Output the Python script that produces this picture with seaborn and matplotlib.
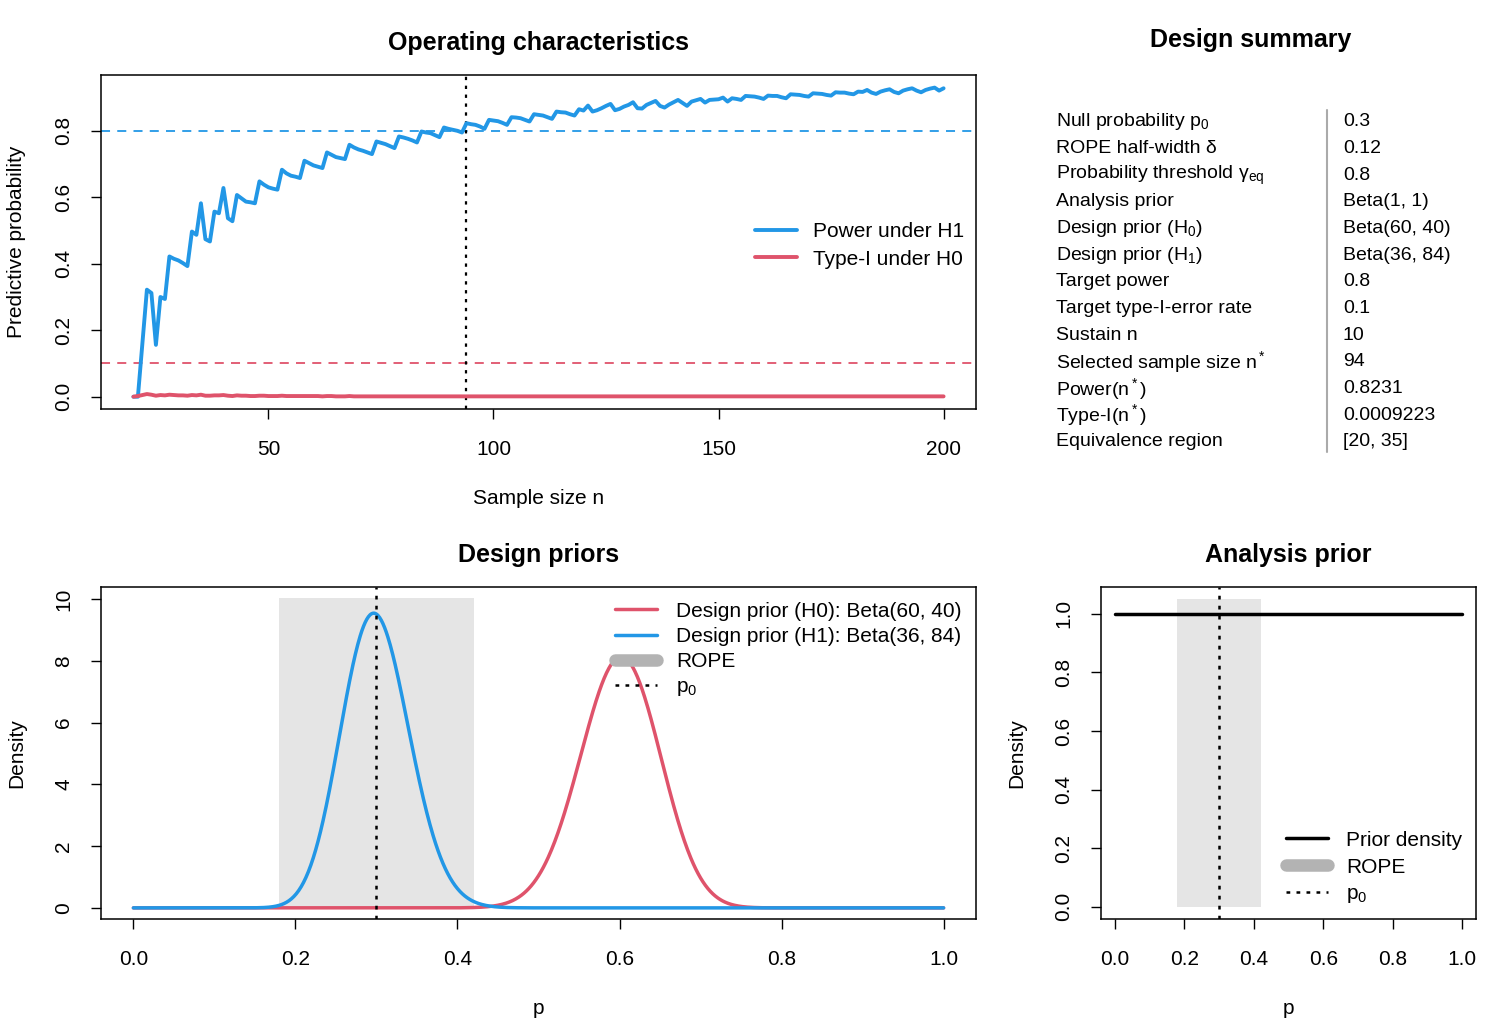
import math
import matplotlib
matplotlib.use("Agg")
import matplotlib.pyplot as plt
import numpy as np
import pandas as pd
import seaborn as sns

# ---- data ----
n_values = list(range(20, 201))
power_h1 = [
    0.000, 0.000, 0.160, 0.322, 0.312, 0.156, 0.300, 0.294, 0.422, 0.415,
    0.410, 0.402, 0.393, 0.497, 0.487, 0.582, 0.474, 0.467, 0.557, 0.552,
    0.628, 0.537, 0.528, 0.607, 0.597, 0.587, 0.585, 0.582, 0.648, 0.638,
    0.630, 0.626, 0.623, 0.683, 0.672, 0.665, 0.662, 0.658, 0.710, 0.703,
    0.696, 0.692, 0.688, 0.735, 0.728, 0.721, 0.718, 0.715, 0.758, 0.750,
    0.744, 0.740, 0.735, 0.730, 0.768, 0.764, 0.760, 0.754, 0.748, 0.783,
    0.780, 0.776, 0.771, 0.765, 0.798, 0.795, 0.793, 0.787, 0.781, 0.810,
    0.806, 0.803, 0.800, 0.795, 0.823, 0.820, 0.818, 0.813, 0.806, 0.833,
    0.831, 0.829, 0.824, 0.818, 0.841, 0.840, 0.838, 0.833, 0.828, 0.850,
    0.848, 0.846, 0.841, 0.836, 0.858, 0.856, 0.855, 0.850, 0.846, 0.865,
    0.861, 0.876, 0.858, 0.862, 0.868, 0.875, 0.881, 0.862, 0.866, 0.873,
    0.878, 0.886, 0.868, 0.867, 0.878, 0.884, 0.890, 0.875, 0.870, 0.879,
    0.886, 0.893, 0.884, 0.875, 0.888, 0.892, 0.896, 0.885, 0.893, 0.894,
    0.895, 0.900, 0.888, 0.898, 0.896, 0.893, 0.905, 0.904, 0.903, 0.900,
    0.896, 0.906, 0.905, 0.905, 0.901, 0.898, 0.910, 0.909, 0.908, 0.905,
    0.903, 0.913, 0.912, 0.911, 0.908, 0.906, 0.916, 0.915, 0.915, 0.912,
    0.910, 0.918, 0.917, 0.923, 0.915, 0.911, 0.918, 0.922, 0.925, 0.917,
    0.913, 0.921, 0.925, 0.928, 0.921, 0.916, 0.923, 0.927, 0.930, 0.921,
    0.928,
]
type1_h0 = [
    0.000, 0.002, 0.005, 0.008, 0.006, 0.003, 0.005, 0.004, 0.006, 0.005,
    0.004, 0.004, 0.003, 0.005, 0.004, 0.006, 0.003, 0.003, 0.004, 0.004,
    0.005, 0.003, 0.002, 0.004, 0.003, 0.003, 0.002, 0.002, 0.003, 0.003,
    0.002, 0.002, 0.002, 0.003, 0.002, 0.002, 0.002, 0.002, 0.002, 0.002,
    0.002, 0.002, 0.001, 0.002, 0.002, 0.001, 0.001, 0.001, 0.002, 0.001,
    0.001, 0.001, 0.001, 0.001, 0.001, 0.001, 0.001, 0.001, 0.001, 0.001,
    0.001, 0.001, 0.001, 0.001, 0.001, 0.001, 0.001, 0.001, 0.001, 0.001,
    0.001, 0.001, 0.001, 0.001, 0.001, 0.001, 0.001, 0.001, 0.001, 0.001,
    0.001, 0.001, 0.001, 0.001, 0.001, 0.001, 0.001, 0.001, 0.001, 0.001,
    0.001, 0.001, 0.001, 0.001, 0.001, 0.001, 0.001, 0.001, 0.001, 0.001,
    0.001, 0.001, 0.001, 0.001, 0.001, 0.001, 0.001, 0.001, 0.001, 0.001,
    0.001, 0.001, 0.001, 0.001, 0.001, 0.001, 0.001, 0.001, 0.001, 0.001,
    0.001, 0.001, 0.001, 0.001, 0.001, 0.001, 0.001, 0.001, 0.001, 0.001,
    0.001, 0.001, 0.001, 0.001, 0.001, 0.001, 0.001, 0.001, 0.001, 0.001,
    0.001, 0.001, 0.001, 0.001, 0.001, 0.001, 0.001, 0.001, 0.001, 0.001,
    0.001, 0.001, 0.001, 0.001, 0.001, 0.001, 0.001, 0.001, 0.001, 0.001,
    0.001, 0.001, 0.001, 0.001, 0.001, 0.001, 0.001, 0.001, 0.001, 0.001,
    0.001, 0.001, 0.001, 0.001, 0.001, 0.001, 0.001, 0.001, 0.001, 0.001,
    0.001,
]

p0 = 0.3
delta = 0.12
target_power = 0.8
target_type1 = 0.1
n_star = 94
prior_h0 = (60, 40)
prior_h1 = (36, 84)
analysis_prior = (1, 1)

summary_labels = [
    r"Null probability $\mathregular{p_0}$",
    "ROPE half-width δ",
    r"Probability threshold $\mathregular{\gamma_{eq}}$",
    "Analysis prior",
    r"Design prior ($\mathregular{H_0}$)",
    r"Design prior ($\mathregular{H_1}$)",
    "Target power",
    "Target type-I-error rate",
    "Sustain n",
    r"Selected sample size $\mathregular{n^*}$",
    r"Power($\mathregular{n^*}$)",
    r"Type-I($\mathregular{n^*}$)",
    "Equivalence region",
]
summary_values = ["0.3", "0.12", "0.8", "Beta(1, 1)", "Beta(60, 40)", "Beta(36, 84)",
                  "0.8", "0.1", "10", "94", "0.8231", "0.0009223", "[20, 35]"]

BLUE = "#2297E6"
RED = "#DF536B"


def beta_pdf(x, a, b):
    logc = math.lgamma(a + b) - math.lgamma(a) - math.lgamma(b)
    with np.errstate(divide="ignore"):
        return np.exp(logc + (a - 1) * np.log(x) + (b - 1) * np.log1p(-x))


sns.set_style("ticks")
plt.rcParams["font.family"] = ["Liberation Sans", "DejaVu Sans"]
plt.rcParams["mathtext.fontset"] = "custom"
plt.rcParams["mathtext.rm"] = "Liberation Sans"
plt.rcParams["mathtext.it"] = "Liberation Sans:italic"
for key in ("text.color", "axes.labelcolor", "xtick.color", "ytick.color", "axes.edgecolor"):
    plt.rcParams[key] = "black"
plt.rcParams["axes.linewidth"] = 1.1
plt.rcParams["xtick.major.size"] = 7
plt.rcParams["ytick.major.size"] = 7
plt.rcParams["xtick.major.width"] = 1.0
plt.rcParams["ytick.major.width"] = 1.0
plt.rcParams["xtick.major.pad"] = 15
plt.rcParams["ytick.major.pad"] = 13

FS = 15
TFS = 18
fig = plt.figure(figsize=(15.02, 10.22), dpi=100)
W, H = 1502.0, 1022.0


def add_ax(l, t, r, b):
    return fig.add_axes([l / W, 1 - b / H, (r - l) / W, (b - t) / H])


ax1 = add_ax(101, 75, 976, 409)
ax3 = add_ax(101, 587, 976, 919)
ax4 = add_ax(1101, 587, 1476, 919)

# ---- operating characteristics ----
df_oc = pd.DataFrame({"n": n_values, "power": power_h1, "type1": type1_h0})
ax1.axhline(target_power, color=BLUE, ls=(0, (5, 4)), lw=1.3)
ax1.axhline(target_type1, color=RED, ls=(0, (5, 4)), lw=1.3)
ax1.axvline(n_star, color="black", ls=(0, (1.5, 2.5)), lw=1.6)
sns.lineplot(data=df_oc, x="n", y="power", ax=ax1, color=BLUE, lw=2.8, label="Power under H1")
sns.lineplot(data=df_oc, x="n", y="type1", ax=ax1, color=RED, lw=2.8, label="Type-I under H0")
ax1.set_xlim(12.8, 207.2)
ax1.set_ylim(-0.037, 0.968)
ax1.set_xticks([50, 100, 150, 200])
ax1.set_yticks([0.0, 0.2, 0.4, 0.6, 0.8])
ax1.set_yticklabels(["0.0", "0.2", "0.4", "0.6", "0.8"], rotation=90, va="center")
ax1.set_xlabel("Sample size n", fontsize=FS, labelpad=22)
ax1.set_ylabel("Predictive probability", fontsize=FS, labelpad=20)
ax1.set_title("Operating characteristics", fontsize=TFS, fontweight="bold", pad=18)
ax1.legend(loc="center right", bbox_to_anchor=(1.0, 0.49), frameon=False, fontsize=FS,
           handlelength=2.0, borderaxespad=0.15, labelspacing=0.4, handletextpad=0.8)

# ---- design priors ----
p_grid = np.linspace(0, 1, 1001)
df_dp = pd.DataFrame({
    "p": p_grid,
    "h0": beta_pdf(p_grid, *prior_h0),
    "h1": beta_pdf(p_grid, *prior_h1),
    "ana": beta_pdf(p_grid, *analysis_prior),
})
top3 = 10.05
ax3.fill_between([p0 - delta, p0 + delta], 0, top3, color="#E5E5E5", lw=0)
sns.lineplot(data=df_dp, x="p", y="h0", ax=ax3, color=RED, lw=2.5,
             label="Design prior (H0): Beta(60, 40)")
sns.lineplot(data=df_dp, x="p", y="h1", ax=ax3, color=BLUE, lw=2.5,
             label="Design prior (H1): Beta(36, 84)")
ax3.plot([], [], color="#B3B3B3", lw=9, solid_capstyle="round", label="ROPE")
ax3.axvline(p0, color="black", ls=(0, (1.5, 2.5)), lw=1.8, label=r"$\mathregular{p_0}$")
ax3.set_xlim(-0.04, 1.04)
ax3.set_ylim(-0.36, 10.39)
ax3.set_xticks([0.0, 0.2, 0.4, 0.6, 0.8, 1.0])
ax3.set_xticklabels(["0.0", "0.2", "0.4", "0.6", "0.8", "1.0"])
ax3.set_yticks([0, 2, 4, 6, 8, 10])
ax3.set_yticklabels(["0", "2", "4", "6", "8", "10"], rotation=90, va="center")
ax3.set_xlabel("p", fontsize=FS, labelpad=22)
ax3.set_ylabel("Density", fontsize=FS, labelpad=20)
ax3.set_title("Design priors", fontsize=TFS, fontweight="bold", pad=18)
ax3.legend(loc="upper right", frameon=False, fontsize=FS, handlelength=2.0,
           borderaxespad=0.3, labelspacing=0.3, handletextpad=0.9)

# ---- analysis prior ----
ax4.fill_between([p0 - delta, p0 + delta], 0, 1.05, color="#E5E5E5", lw=0)
sns.lineplot(data=df_dp, x="p", y="ana", ax=ax4, color="black", lw=2.5, label="Prior density")
ax4.plot([], [], color="#B3B3B3", lw=9, solid_capstyle="round", label="ROPE")
ax4.axvline(p0, color="black", ls=(0, (1.5, 2.5)), lw=1.8, label=r"$\mathregular{p_0}$")
ax4.set_xlim(-0.04, 1.04)
ax4.set_ylim(-0.042, 1.092)
ax4.set_xticks([0.0, 0.2, 0.4, 0.6, 0.8, 1.0])
ax4.set_xticklabels(["0.0", "0.2", "0.4", "0.6", "0.8", "1.0"])
ax4.set_yticks([0.0, 0.2, 0.4, 0.6, 0.8, 1.0])
ax4.set_yticklabels(["0.0", "0.2", "0.4", "0.6", "0.8", "1.0"], rotation=90, va="center")
ax4.set_xlabel("p", fontsize=FS, labelpad=22)
ax4.set_ylabel("Density", fontsize=FS, labelpad=20)
ax4.set_title("Analysis prior", fontsize=TFS, fontweight="bold", pad=18)
ax4.legend(loc="lower right", bbox_to_anchor=(1.0, 0.0), frameon=False, fontsize=FS,
           handlelength=2.0, borderaxespad=0.25, labelspacing=0.38, handletextpad=0.9)

for ax in (ax1, ax3, ax4):
    ax.tick_params(labelsize=FS)
    for s in ax.spines.values():
        s.set_visible(True)
        s.set_color("black")

# ---- design summary ----
fig.text(1251 / W, 1 - 40 / H, "Design summary", ha="center", va="center",
         fontsize=TFS, fontweight="bold")
row_y = 122
for lab, val in zip(summary_labels, summary_values):
    fig.text(1056 / W, 1 - row_y / H, lab, ha="left", va="center", fontsize=14)
    fig.text(1343 / W, 1 - row_y / H, val, ha="left", va="center", fontsize=14)
    row_y += 26.665
fig.add_artist(plt.Line2D([1327 / W, 1327 / W], [1 - 110 / H, 1 - 452 / H],
                          color="#AAAAAA", lw=1.5))

fig.savefig("out.png", dpi=100)
